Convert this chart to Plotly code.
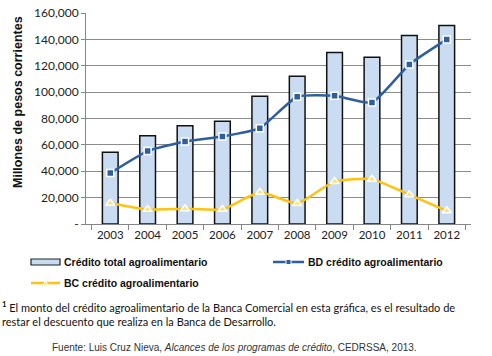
import plotly.graph_objects as go

years = ["2003", "2004", "2005", "2006", "2007", "2008", "2009", "2010", "2011", "2012"]
credito_total = [54500, 67000, 74500, 78000, 96800, 112000, 130000, 126500, 143000, 150500]
bd_credito = [38600, 55300, 62600, 66400, 72700, 96500, 97200, 92200, 121000, 140000]
bc_credito = [15800, 11100, 11600, 11100, 24000, 15600, 32300, 34000, 22200, 10000]
y_ticks = [0, 20000, 40000, 60000, 80000, 100000, 120000, 140000, 160000]
y_tick_labels = ["-", "20,000", "40,000", "60,000", "80,000", "100,000", "120,000", "140,000", "160,000"]

BAR_FILL = "#C9DCF1"
BD_COLOR = "#2E5E9E"
BC_COLOR = "#FFC20E"
FONT = "Liberation Sans, Arial, sans-serif"
TICKFONT = "Lato, Liberation Sans, sans-serif"

# plot area in pixels
L, R, T, B = 86, 471, 13, 224
W, H = R - L, B - T


def px(x):
    return (x - L) / W


def py(y):
    return (B - y) / H


fig = go.Figure()
fig.add_trace(go.Bar(
    x=years, y=credito_total, name="Crédito total agroalimentario",
    marker=dict(color=BAR_FILL, line=dict(color="#111111", width=1.5)),
    width=0.42,
))
fig.add_trace(go.Scatter(
    x=years, y=bd_credito, name="BD crédito agroalimentario", mode="lines+markers",
    line=dict(color=BD_COLOR, width=2.5, shape="spline", smoothing=0.5),
    marker=dict(symbol="square", size=7, color=BD_COLOR, line=dict(color="white", width=1.5)),
))
fig.add_trace(go.Scatter(
    x=years, y=bc_credito, name="BC crédito agroalimentario", mode="lines+markers",
    line=dict(color=BC_COLOR, width=2.5, shape="spline", smoothing=0.5),
    marker=dict(symbol="triangle-up", size=8, color="#FFE27A", line=dict(color="white", width=1.5)),
))

fig.update_layout(
    width=492, height=356,
    margin=dict(l=L, r=492 - R, t=T, b=356 - B, autoexpand=False),
    paper_bgcolor="white", plot_bgcolor="white",
    showlegend=False,
    font=dict(family=FONT, size=11, color="#222222"),
    xaxis=dict(
        type="category", showline=True, linecolor="#868686", linewidth=1,
        ticks="outside", ticklen=5, tickcolor="#868686", tickson="boundaries",
        tickfont=dict(size=11.5, family=TICKFONT, color="#222222"),
        showgrid=False, automargin=False,
    ),
    yaxis=dict(
        range=[0, 160000], tickvals=y_ticks, ticktext=y_tick_labels,
        showline=True, linecolor="#868686", linewidth=1,
        ticks="outside", ticklen=4, tickcolor="#868686",
        showgrid=True, gridcolor="#8C8C8C", gridwidth=1,
        tickfont=dict(size=12, family=TICKFONT, color="#222222"),
        zeroline=False, automargin=False,
    ),
)

# Y axis title
fig.add_annotation(xref="paper", yref="paper", x=px(18), y=py(102),
                   text="<b>Millones de pesos corrientes</b>", textangle=-90, showarrow=False,
                   xanchor="center", yanchor="middle",
                   font=dict(size=12.5, family=FONT, color="#111111"))

# Custom legend
legend_font = dict(family=FONT, size=10.5, color="#111111")
# bar entry
fig.add_shape(type="rect", xref="paper", yref="paper",
              x0=px(31), x1=px(60), y0=py(265), y1=py(259),
              line=dict(color="#222222", width=1.2), fillcolor=BAR_FILL)
fig.add_annotation(xref="paper", yref="paper", x=px(62), y=py(262),
                   text="<b>Crédito total agroalimentario</b>", showarrow=False,
                   xanchor="left", yanchor="middle", font=legend_font)
# BD entry
fig.add_shape(type="line", xref="paper", yref="paper",
              x0=px(273), x1=px(304), y0=py(262), y1=py(262),
              line=dict(color=BD_COLOR, width=2.5))
fig.add_shape(type="rect", xref="paper", yref="paper",
              x0=px(286), x1=px(291), y0=py(264.5), y1=py(259.5),
              line=dict(color="white", width=1), fillcolor=BD_COLOR)
fig.add_annotation(xref="paper", yref="paper", x=px(306), y=py(262),
                   text="<b>BD crédito agroalimentario</b>", showarrow=False,
                   xanchor="left", yanchor="middle", font=legend_font)
# BC entry
fig.add_shape(type="line", xref="paper", yref="paper",
              x0=px(31), x1=px(60), y0=py(283), y1=py(283),
              line=dict(color=BC_COLOR, width=2.5))
fig.add_shape(type="path", xref="paper", yref="paper",
              path="M {} {} L {} {} L {} {} Z".format(px(43), py(285.5), px(48), py(285.5), px(45.5), py(280.5)),
              line=dict(color="white", width=1), fillcolor="#FFE27A")
fig.add_annotation(xref="paper", yref="paper", x=px(62), y=py(283),
                   text="<b>BC crédito agroalimentario</b>", showarrow=False,
                   xanchor="left", yanchor="middle", font=legend_font)

# Footnote
foot_font = dict(family="Lato, Open Sans, sans-serif", size=11, color="#111111")
fig.add_annotation(xref="paper", yref="paper", x=px(0), y=py(313),
                   text="<b><sup>1</sup></b> El monto del crédito agroalimentario de la Banca Comercial en esta gráfica, es el resultado de<br>restar el descuento que realiza en la Banca de Desarrollo.",
                   showarrow=False, xanchor="left", yanchor="middle", align="left", font=foot_font)
fig.add_annotation(xref="paper", yref="paper", x=px(234), y=py(347),
                   text="Fuente: Luis Cruz Nieva, <i>Alcances de los programas de crédito</i>, CEDRSSA, 2013.",
                   showarrow=False, xanchor="center", yanchor="middle",
                   font=dict(family=FONT, size=10, color="#333333"))

fig.write_html("out.html", config={"displayModeBar": False},
               post_script="document.body.style.margin='0';")
